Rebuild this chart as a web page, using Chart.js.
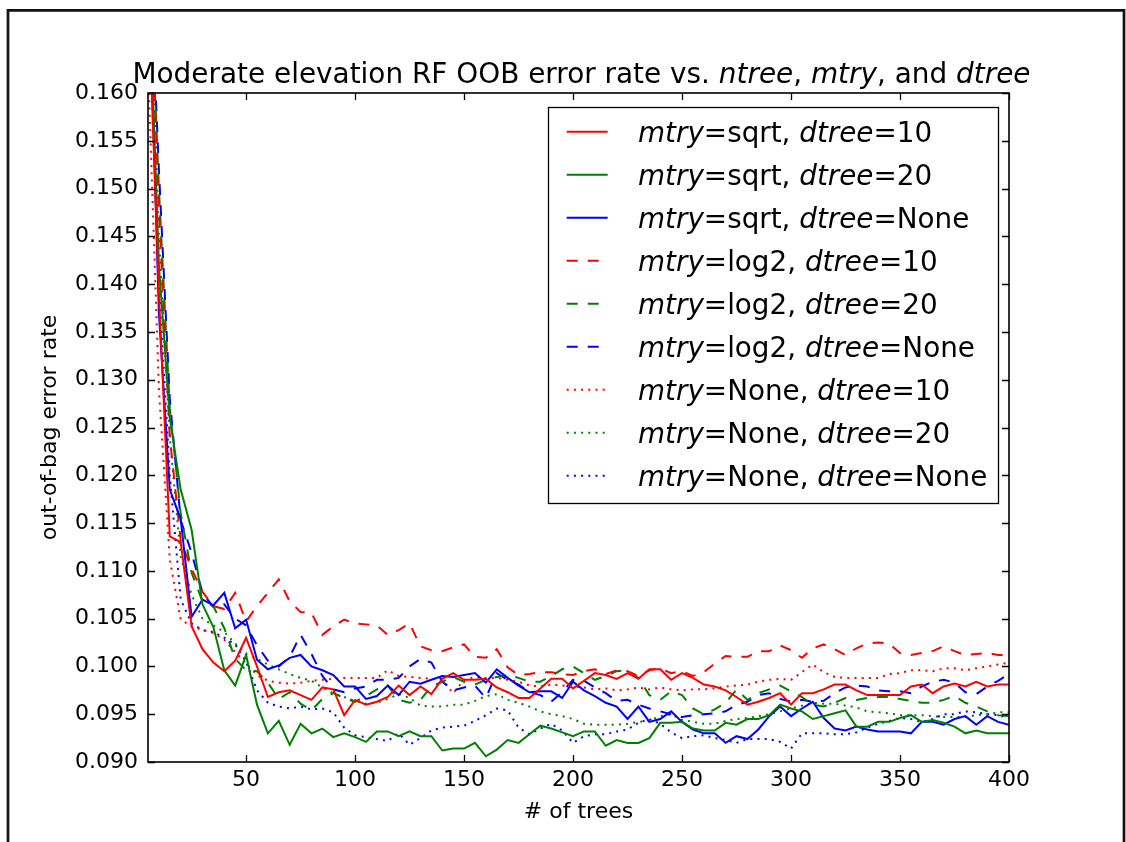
<!DOCTYPE html>
<html>
<head>
<meta charset="utf-8">
<title>Moderate elevation RF OOB error rate</title>
<script src="https://cdn.jsdelivr.net/npm/chart.js@4.4.1/dist/chart.umd.min.js"></script>
<style>
  html, body { margin: 0; padding: 0; background: #fff; }
  #wrap { position: relative; width: 1126px; height: 842px; }
</style>
</head>
<body>
<div id="wrap"><canvas id="oobChart"></canvas></div>
<script>
// number of trees in the forest
const nTrees = [
  5, 10, 15, 20, 25, 30, 35, 40, 45, 50,
  55, 60, 65, 70, 75, 80, 85, 90, 95, 100,
  105, 110, 115, 120, 125, 130, 135, 140, 145, 150,
  155, 160, 165, 170, 175, 180, 185, 190, 195, 200,
  205, 210, 215, 220, 225, 230, 235, 240, 245, 250,
  255, 260, 265, 270, 275, 280, 285, 290, 295, 300,
  305, 310, 315, 320, 325, 330, 335, 340, 345, 350,
  355, 360, 365, 370, 375, 380, 385, 390, 395, 400
]

// OOB error, mtry=sqrt
const errSqrt10 = [
  0.171, 0.139, 0.1136, 0.1130, 0.1042, 0.1018, 0.1004, 0.0995, 0.1006, 0.1030,
  0.1000, 0.0968, 0.0973, 0.0975, 0.0970, 0.0965, 0.0978, 0.0976, 0.0949, 0.0965,
  0.0960, 0.0963, 0.0968, 0.0980, 0.0970, 0.0979, 0.0971, 0.0987, 0.0993, 0.0986,
  0.0986, 0.0987, 0.0978, 0.0973, 0.0967, 0.0967, 0.0977, 0.0987, 0.0987, 0.0977,
  0.0985, 0.0993, 0.0991, 0.0987, 0.0993, 0.0987, 0.0997, 0.0997, 0.0986, 0.0993,
  0.0988, 0.0981, 0.0979, 0.0975, 0.0968, 0.0960, 0.0963, 0.0967, 0.0972, 0.0960,
  0.0972, 0.0972, 0.0976, 0.0981, 0.0981, 0.0975, 0.0970, 0.0970, 0.0970, 0.0970,
  0.0979, 0.0981, 0.0972, 0.0979, 0.0982, 0.0979, 0.0984, 0.0979, 0.0981, 0.0981
]
const errSqrt20 = [
  0.175, 0.142, 0.126, 0.1185, 0.1143, 0.1065, 0.1041, 0.0996, 0.0980, 0.1012,
  0.0960, 0.0930, 0.0943, 0.0918, 0.0940, 0.0930, 0.0935, 0.0926, 0.0930, 0.0926,
  0.0921, 0.0932, 0.0932, 0.0927, 0.0932, 0.0927, 0.0927, 0.0912, 0.0914, 0.0914,
  0.0920, 0.0906, 0.0913, 0.0923, 0.0920, 0.0929, 0.0938, 0.0935, 0.0931, 0.0927,
  0.0932, 0.0932, 0.0917, 0.0923, 0.0920, 0.0920, 0.0925, 0.0941, 0.0941, 0.0942,
  0.0935, 0.0933, 0.0933, 0.0941, 0.0939, 0.0945, 0.0945, 0.0949, 0.0960, 0.0956,
  0.0953, 0.0945, 0.0948, 0.0951, 0.0954, 0.0937, 0.0937, 0.0942, 0.0942, 0.0946,
  0.0949, 0.0942, 0.0944, 0.0941, 0.0937, 0.0930, 0.0933, 0.0930, 0.0930, 0.0930
]
const errSqrtNone = [
  0.176, 0.137, 0.1185, 0.1154, 0.1052, 0.1070, 0.1064, 0.1077, 0.1040, 0.1049,
  0.1007, 0.0997, 0.1001, 0.1009, 0.1012, 0.1000, 0.0996, 0.0991, 0.0979, 0.0979,
  0.0966, 0.0969, 0.0980, 0.0970, 0.0984, 0.0982, 0.0986, 0.0990, 0.0989, 0.0991,
  0.0993, 0.0983, 0.0997, 0.0988, 0.0980, 0.0973, 0.0974, 0.0974, 0.0967, 0.0984,
  0.0975, 0.0969, 0.0962, 0.0958, 0.0945, 0.0958, 0.0942, 0.0945, 0.0953, 0.0942,
  0.0934, 0.0930, 0.0930, 0.0920, 0.0927, 0.0924, 0.0934, 0.0948, 0.0958, 0.0948,
  0.0956, 0.0963, 0.0946, 0.0935, 0.0933, 0.0937, 0.0934, 0.0932, 0.0932, 0.0932,
  0.0930, 0.0942, 0.0942, 0.0939, 0.0945, 0.0948, 0.0939, 0.0948, 0.0942, 0.0939
]

// OOB error, mtry=log2
const errLog2_10 = [
  0.180, 0.148, 0.124, 0.1132, 0.1102, 0.1078, 0.1063, 0.1060, 0.1077, 0.1047,
  0.1063, 0.1077, 0.1091, 0.1068, 0.1057, 0.1056, 0.1033, 0.1042, 0.1049, 0.1045,
  0.1044, 0.1043, 0.1033, 0.1038, 0.1045, 0.1021, 0.1017, 0.1016, 0.1020, 0.1023,
  0.1010, 0.1009, 0.1018, 0.0999, 0.0991, 0.0992, 0.0994, 0.0994, 0.0992, 0.0991,
  0.0995, 0.0997, 0.0992, 0.0996, 0.0995, 0.0990, 0.0996, 0.0998, 0.0993, 0.0995,
  0.0990, 0.0994, 0.1003, 0.1011, 0.1010, 0.1010, 0.1016, 0.1016, 0.1022, 0.1017,
  0.1009, 0.1019, 0.1023, 0.1018, 0.1012, 0.1019, 0.1024, 0.1025, 0.1024, 0.1014,
  0.1012, 0.1014, 0.1016, 0.1021, 0.1016, 0.1012, 0.1013, 0.1014, 0.1012, 0.1012
]
const errLog2_20 = [
  0.178, 0.150, 0.127, 0.1160, 0.1098, 0.1068, 0.1063, 0.1040, 0.1008, 0.0996,
  0.0995, 0.0983, 0.0966, 0.0973, 0.0961, 0.0954, 0.0966, 0.0972, 0.0967, 0.0963,
  0.0969, 0.0976, 0.0980, 0.0965, 0.0962, 0.0965, 0.0979, 0.0984, 0.0989, 0.0984,
  0.0981, 0.0986, 0.0989, 0.0991, 0.0988, 0.0984, 0.0984, 0.0990, 0.0997, 0.1000,
  0.0993, 0.0986, 0.0990, 0.0995, 0.0996, 0.0988, 0.0970, 0.0965, 0.0974, 0.0970,
  0.0956, 0.0950, 0.0955, 0.0962, 0.0976, 0.0965, 0.0972, 0.0976, 0.0980, 0.0974,
  0.0968, 0.0960, 0.0958, 0.0962, 0.0967, 0.0965, 0.0967, 0.0968, 0.0968, 0.0966,
  0.0964, 0.0962, 0.0962, 0.0965, 0.0969, 0.0962, 0.0958, 0.0953, 0.0949, 0.0948
]
const errLog2None = [
  0.179, 0.152, 0.128, 0.1153, 0.1119, 0.1077, 0.1062, 0.1065, 0.1050, 0.1043,
  0.1022, 0.1006, 0.1000, 0.1010, 0.1033, 0.1013, 0.0990, 0.0976, 0.0973, 0.0977,
  0.0979, 0.0986, 0.0986, 0.0988, 0.1000, 0.1008, 0.1004, 0.0984, 0.0975, 0.0978,
  0.0980, 0.0967, 0.0993, 0.0986, 0.0981, 0.0973, 0.0970, 0.0963, 0.0973, 0.0986,
  0.0985, 0.0978, 0.0972, 0.0964, 0.0965, 0.0960, 0.0956, 0.0953, 0.0950, 0.0947,
  0.0949, 0.0950, 0.0951, 0.0953, 0.0960, 0.0963, 0.0970, 0.0972, 0.0966, 0.0963,
  0.0965, 0.0963, 0.0964, 0.0972, 0.0978, 0.0980, 0.0979, 0.0975, 0.0974, 0.0974,
  0.0972, 0.0979, 0.0984, 0.0986, 0.0983, 0.0973, 0.0971, 0.0979, 0.0985, 0.0992
]

// OOB error, mtry=None (all features)
const errNone10 = [
  0.163, 0.129, 0.1112, 0.1049, 0.1042, 0.1038, 0.1035, 0.1028, 0.1015, 0.1003,
  0.0991, 0.0985, 0.0983, 0.0982, 0.0983, 0.0985, 0.0986, 0.0987, 0.0988, 0.0988,
  0.0988, 0.0988, 0.0996, 0.0990, 0.0989, 0.0988, 0.0987, 0.0986, 0.0972, 0.0986,
  0.0989, 0.0988, 0.0988, 0.0986, 0.0984, 0.0980, 0.0979, 0.0981, 0.0980, 0.0979,
  0.0978, 0.0976, 0.0977, 0.0975, 0.0976, 0.0978, 0.0976, 0.0978, 0.0976, 0.0975,
  0.0976, 0.0976, 0.0977, 0.0979, 0.0980, 0.0981, 0.0984, 0.0986, 0.0987, 0.0986,
  0.0994, 0.1002, 0.0994, 0.0989, 0.0988, 0.0988, 0.0988, 0.0988, 0.0992, 0.0993,
  0.0996, 0.0996, 0.0995, 0.0998, 0.0998, 0.0996, 0.0998, 0.1000, 0.1002, 0.1004
]
const errNone20 = [
  0.180, 0.145, 0.124, 0.1115, 0.1075, 0.1050, 0.1043, 0.1036, 0.1024, 0.1013,
  0.1008, 0.1002, 0.0997, 0.0992, 0.0988, 0.0985, 0.0978, 0.0972, 0.0968, 0.0964,
  0.0961, 0.0962, 0.0966, 0.0971, 0.0967, 0.0959, 0.0958, 0.0958, 0.0960, 0.0960,
  0.0964, 0.0969, 0.0971, 0.0965, 0.0962, 0.0958, 0.0953, 0.0950, 0.0948, 0.0945,
  0.0940, 0.0939, 0.0939, 0.0939, 0.0940, 0.0942, 0.0943, 0.0948, 0.0950, 0.0944,
  0.0942, 0.0940, 0.0940, 0.0943, 0.0945, 0.0946, 0.0948, 0.0950, 0.0953, 0.0956,
  0.0959, 0.0962, 0.0961, 0.0961, 0.0959, 0.0957, 0.0953, 0.0952, 0.0951, 0.0949,
  0.0949, 0.0949, 0.0948, 0.0947, 0.0947, 0.0947, 0.0949, 0.0950, 0.0952, 0.0952
]
const errNoneNone = [
  0.172, 0.140, 0.120, 0.1070, 0.1045, 0.1038, 0.1036, 0.1030, 0.1023, 0.1005,
  0.0975, 0.0962, 0.0958, 0.0956, 0.0958, 0.0955, 0.0956, 0.0952, 0.0936, 0.0928,
  0.0926, 0.0924, 0.0922, 0.0930, 0.0918, 0.0925, 0.0933, 0.0936, 0.0937, 0.0938,
  0.0943, 0.0949, 0.0956, 0.0954, 0.0936, 0.0929, 0.0935, 0.0940, 0.0933, 0.0920,
  0.0927, 0.0929, 0.0929, 0.0932, 0.0934, 0.0941, 0.0945, 0.0940, 0.0931, 0.0925,
  0.0927, 0.0928, 0.0925, 0.0923, 0.0920, 0.0924, 0.0924, 0.0924, 0.0921, 0.0914,
  0.0930, 0.0930, 0.0930, 0.0929, 0.0929, 0.0931, 0.0936, 0.0940, 0.0943, 0.0946,
  0.0945, 0.0942, 0.0945, 0.0950, 0.0950, 0.0953, 0.0952, 0.0950, 0.0949, 0.0946
]

const mtryOptions = ["sqrt", "log2", "None"]
const dtreeOptions = ["10", "20", "None"]
const xTicks = [50, 100, 150, 200, 250, 300, 350, 400]
const yTicks = [0.090, 0.095, 0.100, 0.105, 0.110, 0.115, 0.120, 0.125, 0.130, 0.135, 0.140, 0.145, 0.150, 0.155, 0.160]

const seriesGrid = [
  [errSqrt10, errSqrt20, errSqrtNone],
  [errLog2_10, errLog2_20, errLog2None],
  [errNone10, errNone20, errNoneNone]
]
const lineColors = ["#ff0000", "#008000", "#0000ff"]   // by dtree
const lineDashes = [[], [11, 10], [2, 5.2]]            // by mtry

const FONT = '"DejaVu Sans", sans-serif'

const datasets = []
mtryOptions.forEach((m, mi) => {
  dtreeOptions.forEach((d, di) => {
    datasets.push({
      label: `mtry=${m}, dtree=${d}`,
      mtry: m,
      dtree: d,
      data: nTrees.map((n, i) => ({ x: n, y: seriesGrid[mi][di][i] })),
      borderColor: lineColors[di],
      borderDash: lineDashes[mi],
      borderWidth: 2,
      pointRadius: 0,
      tension: 0,
      fill: false
    })
  })
})

// draws text runs that switch between upright and italic
function drawRich(ctx, parts, x, y, size, align) {
  const fontFor = it => `${it ? "italic " : ""}${size}px ${FONT}`
  let w = 0
  parts.forEach(p => { ctx.font = fontFor(p.it); w += ctx.measureText(p.t).width })
  let cx = align === "center" ? x - w / 2 : x
  ctx.textAlign = "left"
  parts.forEach(p => {
    ctx.font = fontFor(p.it)
    ctx.fillText(p.t, cx, y)
    cx += ctx.measureText(p.t).width
  })
  return w
}

const decorations = {
  id: "decorations",
  beforeDraw(chart) {
    const ctx = chart.ctx
    ctx.save()
    ctx.fillStyle = "#fff"
    ctx.fillRect(0, 0, chart.width, chart.height)
    // outer figure frame
    ctx.strokeStyle = "#111"
    ctx.lineWidth = 2.7
    ctx.beginPath()
    ctx.moveTo(8, chart.height)
    ctx.lineTo(8, 10.3)
    ctx.lineTo(1124, 10.3)
    ctx.lineTo(1124, chart.height)
    ctx.stroke()
    ctx.restore()
  },
  afterDatasetsDraw(chart) {
    const { ctx, chartArea: a, scales: { x, y } } = chart
    ctx.save()
    ctx.strokeStyle = "#000"
    ctx.lineWidth = 1.3
    ctx.beginPath()
    xTicks.forEach(v => {
      const px = Math.round(x.getPixelForValue(v)) + 0.5
      ctx.moveTo(px, a.bottom); ctx.lineTo(px, a.bottom - 7)
      ctx.moveTo(px, a.top); ctx.lineTo(px, a.top + 7)
    })
    yTicks.forEach(v => {
      const py = Math.round(y.getPixelForValue(v)) + 0.5
      ctx.moveTo(a.left, py); ctx.lineTo(a.left + 7, py)
      ctx.moveTo(a.right, py); ctx.lineTo(a.right - 7, py)
    })
    ctx.stroke()
    ctx.lineWidth = 1.6
    ctx.strokeRect(a.left, a.top, a.right - a.left, a.bottom - a.top)

    // legend box
    const box = { left: 548, top: 107, right: 998, bottom: 503 }
    ctx.fillStyle = "#fff"
    ctx.fillRect(box.left, box.top, box.right - box.left, box.bottom - box.top)
    ctx.lineWidth = 1.3
    ctx.strokeStyle = "#000"
    ctx.strokeRect(box.left + 0.5, box.top + 0.5, box.right - box.left, box.bottom - box.top)
    chart.data.datasets.forEach((ds, i) => {
      const rowY = 131.7 + i * 43
      ctx.strokeStyle = ds.borderColor
      ctx.lineWidth = ds.borderWidth
      ctx.setLineDash(ds.borderDash)
      ctx.beginPath()
      ctx.moveTo(566.7, rowY)
      ctx.lineTo(607.7, rowY)
      ctx.stroke()
      ctx.setLineDash([])
      ctx.fillStyle = "#000"
      ctx.textBaseline = "alphabetic"
      drawRich(ctx, [
        { t: "mtry", it: true }, { t: `=${ds.mtry}, ` },
        { t: "dtree", it: true }, { t: `=${ds.dtree}` }
      ], 638, rowY + 10, 27.8, "left")
    })
    ctx.restore()
  },
  afterDraw(chart) {
    const { ctx, chartArea: a } = chart
    ctx.save()
    ctx.fillStyle = "#000"
    ctx.textBaseline = "alphabetic"
    drawRich(ctx, [
      { t: "Moderate elevation RF OOB error rate vs. " }, { t: "ntree", it: true },
      { t: ", " }, { t: "mtry", it: true }, { t: ", and " }, { t: "dtree", it: true }
    ], (a.left + a.right) / 2 + 3, 83, 27.9, "center")
    ctx.restore()
  }
}

const tickFont = { family: FONT, size: 22 }

new Chart(document.getElementById("oobChart"), {
  type: "line",
  data: { datasets: datasets },
  options: {
    responsive: true,
    maintainAspectRatio: false,
    animation: false,
    events: [],
    layout: { padding: { left: 37, right: 117, top: 93, bottom: 17 } },
    plugins: {
      legend: { display: false },
      title: { display: false },
      tooltip: { enabled: false }
    },
    scales: {
      x: {
        type: "linear",
        min: 5,
        max: 400,
        grid: { display: false, drawTicks: false },
        border: { display: false },
        afterBuildTicks: s => { s.ticks = xTicks.map(v => ({ value: v })) },
        afterFit: s => { s.height = 63 },
        ticks: { color: "#000", font: tickFont, padding: 5, maxRotation: 0, callback: v => String(v) },
        title: { display: true, text: "# of trees", color: "#000", font: tickFont, padding: { top: 0, bottom: 0 } }
      },
      y: {
        type: "linear",
        min: 0.09,
        max: 0.16,
        grid: { display: false, drawTicks: false },
        border: { display: false },
        afterBuildTicks: s => { s.ticks = yTicks.map(v => ({ value: v })) },
        afterFit: s => { s.width = 111 },
        ticks: { color: "#000", font: tickFont, padding: 10, callback: v => v.toFixed(3) },
        title: { display: true, text: "out-of-bag error rate", color: "#000", font: tickFont, padding: { top: 0, bottom: 0 } }
      }
    }
  },
  plugins: [decorations]
})
</script>
</body>
</html>
